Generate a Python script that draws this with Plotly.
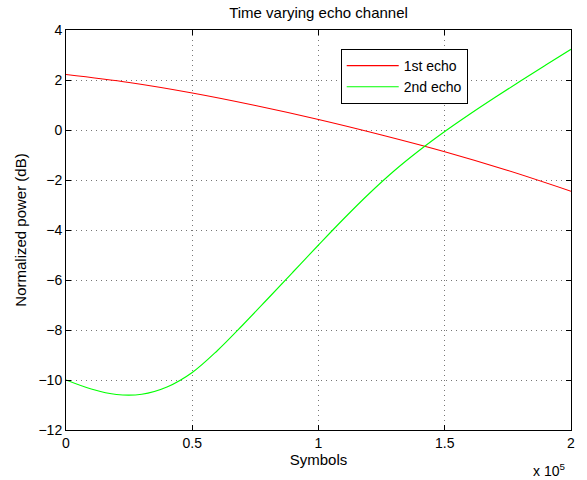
import plotly.graph_objects as go

# Data (x in units of 1e5 symbols)
red_x = [0, 0.25, 0.5, 0.75, 1.0, 1.25, 1.5, 1.75, 2.0]
red_y = [2.22, 1.9, 1.48, 0.98, 0.42, -0.2, -0.87, -1.62, -2.45]

green_x = [0, 0.1, 0.2, 0.3, 0.4, 0.5, 0.6, 0.7, 0.8, 0.9, 1.0,
           1.1, 1.2, 1.3, 1.4, 1.5, 1.6, 1.7, 1.8, 1.9, 2.0]
green_y = [-10.0, -10.36, -10.58, -10.57, -10.28, -9.7, -8.82, -7.8,
           -6.74, -5.67, -4.6, -3.55, -2.55, -1.63, -0.81, -0.06, 0.64,
           1.31, 1.96, 2.6, 3.23]

x_ticks = [0, 0.5, 1, 1.5, 2]
x_labels = ["0", "0.5", "1", "1.5", "2"]
y_ticks = [-12, -10, -8, -6, -4, -2, 0, 2, 4]

FONT = "Liberation Sans, Arial, Helvetica, sans-serif"

fig = go.Figure()
fig.add_trace(go.Scatter(x=red_x, y=red_y, mode="lines", name="1st echo",
                         line=dict(color="#ff0000", width=1.1, shape="spline")))
fig.add_trace(go.Scatter(x=green_x, y=green_y, mode="lines", name="2nd echo",
                         line=dict(color="#00ff00", width=1.1, shape="spline")))

axis_common = dict(
    showline=True, linecolor="black", linewidth=1, mirror="ticks",
    ticks="inside", ticklen=5, tickcolor="black",
    showgrid=True, gridcolor="#777777", griddash="1px,4px", gridwidth=1,
    zeroline=False, tickfont=dict(size=14, color="black", family=FONT),
)

fig.update_layout(
    width=587, height=480,
    margin=dict(l=66, r=14, t=30, b=50),
    paper_bgcolor="white", plot_bgcolor="white",
    font=dict(family=FONT, color="black", size=14),
    title=dict(text="Time varying echo channel", x=0.5, xref="paper",
               y=1 - 13 / 480, yanchor="middle",
               font=dict(size=15, family=FONT, color="black")),
    xaxis=dict(range=[0, 2], tickvals=x_ticks, ticktext=x_labels,
               title=dict(text="Symbols", standoff=2,
                          font=dict(size=15, family=FONT)),
               **axis_common),
    yaxis=dict(range=[-12, 4], tickvals=y_ticks,
               title=dict(text="Normalized power (dB)", standoff=8,
                          font=dict(size=15, family=FONT)),
               **axis_common),
    legend=dict(x=0.544, y=0.9525, xanchor="left", yanchor="top",
                bordercolor="black", borderwidth=1, bgcolor="white",
                font=dict(size=14, family=FONT), tracegroupgap=0,
                itemwidth=52),
    showlegend=True,
)

fig.add_annotation(text="x 10<sup>5</sup>", xref="paper", yref="paper",
                   x=0.957, y=-0.1, showarrow=False, xanchor="center",
                   yanchor="middle", font=dict(size=14, family=FONT))

fig.write_html("out.html")
